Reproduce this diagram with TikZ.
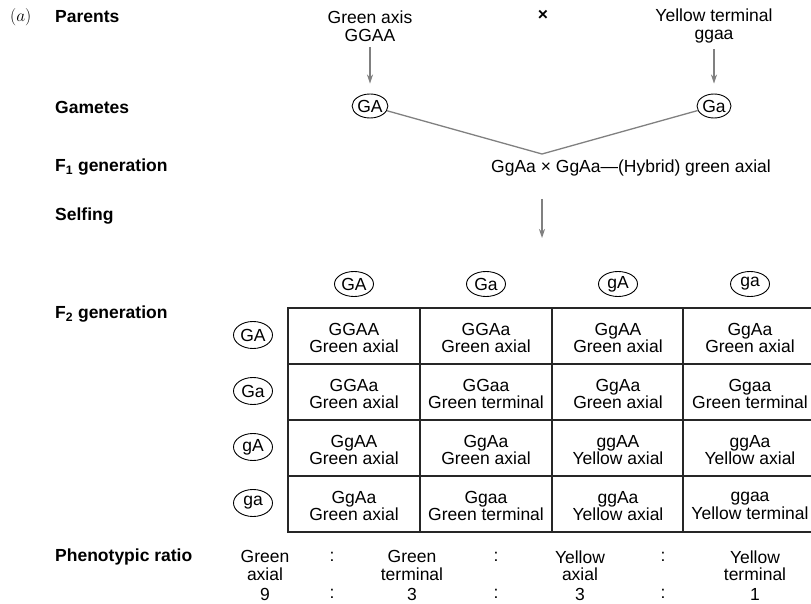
\documentclass[tikz,border=0pt]{standalone}
\usepackage{fontspec}
\setmainfont{Liberation Sans}
\usetikzlibrary{shapes.geometric,arrows.meta}
\begin{document}
\begin{tikzpicture}[x=1pt,y=-1pt,
  txt/.style={font=\fontsize{17.5}{17.5}\selectfont, inner sep=0pt},
  every node/.style={txt},
  lbl/.style={anchor=west,font=\fontsize{17.5}{17.5}\selectfont\bfseries},
  gam/.style={draw,ellipse,minimum width=34pt,minimum height=24pt,line width=0.9pt},
  hdr/.style={draw,ellipse,minimum width=39pt,minimum height=25pt,line width=0.9pt},
  cell/.style={align=center},
  flow/.style={draw=black!50,line width=1.3pt},
  arr/.style={flow,-{Stealth[length=9pt,width=6pt]}},
  gridline/.style={line width=1.2pt,draw=black!85}
]
\useasboundingbox (0,0) rectangle (811,604);

% ---- parents ----
\node[anchor=west,font=\fontsize{18}{18}\selectfont] (tag) at (10,17) {$(a)$};
\node[lbl] (lparents) at (55,17) {Parents};
\node[cell] (p1) at (370,26) {Green axis\\GGAA};
\node[font=\fontsize{17.5}{17.5}\selectfont\bfseries] (cross) at (543,15) {×};
\node[cell] (p2) at (714,26) {Yellow terminal\\ggaa};

% ---- gametes ----
\node[lbl] (lgametes) at (55,107) {Gametes};
\node[gam] (g1) at (370,106) {GA};
\node[gam] (g2) at (714,106) {Ga};
\draw[arr,shorten <=6pt,shorten >=10pt] (p1) -- (g1);
\draw[arr,shorten <=6pt,shorten >=10pt] (p2) -- (g2);

% ---- F1 ----
\coordinate (v) at (542,154);
\draw[flow] (g1) -- (v) -- (g2);
\node[lbl] (lf1) at (55,167) {F\textsubscript{1} generation};
\node[anchor=west] (f1) at (491,168) {GgAa × GgAa—(Hybrid) green axial};

% ---- selfing ----
\node[lbl] (lself) at (55,216) {Selfing};
\coordinate (s0) at (542,199);
\coordinate (s1) at (542,238);
\draw[arr] (s0) -- (s1);

% ---- F2 Punnett square ----
\node[lbl] (lf2) at (55,314) {F\textsubscript{2} generation};

\foreach \g [count=\i] in {GA,Ga,gA,ga}{
  \pgfmathsetmacro{\cx}{288+132*(\i-1)+66}
  \node[hdr] (h\i) at (\cx,284) {\g};
  \pgfmathsetmacro{\ry}{308+56*(\i-1)+27}
  \node[hdr,minimum height=27pt] (r\i) at (253,\ry) {\g};
}

\draw[gridline] (288,308) rectangle (815,532);
\foreach \x in {420,552,683} \draw[gridline] (\x,308) -- (\x,532);
\foreach \y in {364,420,476} \draw[gridline] (288,\y) -- (815,\y);

\foreach \row [count=\i] in {
  {GGAA/Green axial,GGAa/Green axial,GgAA/Green axial,GgAa/Green axial},
  {GGAa/Green axial,GGaa/Green terminal,GgAa/Green axial,Ggaa/Green terminal},
  {GgAA/Green axial,GgAa/Green axial,ggAA/Yellow axial,ggAa/Yellow axial},
  {GgAa/Green axial,Ggaa/Green terminal,ggAa/Yellow axial,ggaa/Yellow terminal}}{
  \foreach \geno/\pheno [count=\j] in \row {
    \pgfmathsetmacro{\cx}{288+132*(\j-1)+66}
    \pgfmathsetmacro{\cy}{308+56*(\i-1)+30}
    \node[cell] (c\i\j) at (\cx,\cy) {\geno\\\pheno};
  }
}

% ---- phenotypic ratio ----
\node[lbl] (lratio) at (55,557) {Phenotypic ratio};
\node[cell] (t1) at (265,565.5) {Green\\axial};
\node[cell] (t2) at (412,565.5) {Green\\terminal};
\node[cell] (t3) at (580,565.5) {Yellow\\axial};
\node[cell] (t4) at (755,565.5) {Yellow\\terminal};
\node (k1) at (332,557) {:};
\node (k2) at (496,557) {:};
\node (k3) at (663,557) {:};
\node (n1) at (265,594) {9};
\node (n2) at (412,594) {3};
\node (n3) at (580,594) {3};
\node (n4) at (755,594) {1};
\node (m1) at (332,594) {:};
\node (m2) at (496,594) {:};
\node (m3) at (663,594) {:};
\end{tikzpicture}
\end{document}
